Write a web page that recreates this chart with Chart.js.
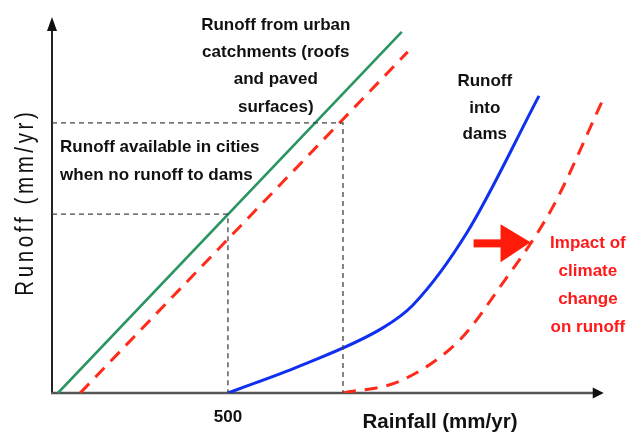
<!DOCTYPE html>
<html>
<head>
<meta charset="utf-8">
<script src="https://cdn.jsdelivr.net/npm/chart.js@4"></script>
<style>
  html, body { margin: 0; padding: 0; background: #fff; }
  #wrap { width: 630px; height: 432px; }
</style>
</head>
<body>
<div id="wrap"><canvas id="runoffChart" width="630" height="432"></canvas></div>
<script>
// ===============================
// DATOS (rainfall / runoff, mm/yr)
// ===============================
const urbanRain = [17, 994];
const urbanRunoff = [0, 1026];

const urbanClimateRain = [80, 1011];
const urbanClimateRunoff = [0, 969];

const damsRain = [500, 705, 940, 1026, 1179, 1384];
const damsRunoff = [0, 77, 185, 250, 455, 844];

const damsClimateRain = [827, 989, 1159, 1273, 1423, 1565];
const damsClimateRunoff = [0, 34, 151, 301, 528, 832];

const guideLowRain = [0, 500, 500];
const guideLowRunoff = [508, 508, 0];
const guideHighRain = [0, 827, 827];
const guideHighRunoff = [767, 767, 0];

const xTickLabels = [500];
const xMax = 1600, yMax = 1068;
const xAxisEnd = 1568;

const FONT = '"Liberation Sans", Arial, sans-serif';

function puntos(xs, ys) {
  return xs.map((x, i) => ({ x: x, y: ys[i] }));
}

// ===============================
// EJES, FLECHAS Y TEXTOS
// ===============================
const dibujoPlugin = {
  id: "dibujo",
  beforeDatasetsDraw(chart) {
    const { ctx, scales: { x, y } } = chart;
    const x0 = x.getPixelForValue(0), y0 = y.getPixelForValue(0);
    const xEnd = x.getPixelForValue(xAxisEnd), yEnd = y.getPixelForValue(yMax);
    ctx.save();
    // eje y
    ctx.strokeStyle = "#222";
    ctx.fillStyle = "#111";
    ctx.lineWidth = 2;
    ctx.beginPath();
    ctx.moveTo(x0, y0 + 1);
    ctx.lineTo(x0, yEnd + 12);
    ctx.stroke();
    ctx.beginPath();
    ctx.moveTo(x0, yEnd);
    ctx.lineTo(x0 - 5, yEnd + 14);
    ctx.lineTo(x0 + 5, yEnd + 14);
    ctx.closePath();
    ctx.fill();
    // eje x
    ctx.strokeStyle = "#555";
    ctx.lineWidth = 2.5;
    ctx.beginPath();
    ctx.moveTo(x0 - 1, y0);
    ctx.lineTo(xEnd - 10, y0);
    ctx.stroke();
    ctx.beginPath();
    ctx.moveTo(xEnd, y0);
    ctx.lineTo(xEnd - 11, y0 - 5.5);
    ctx.lineTo(xEnd - 11, y0 + 5.5);
    ctx.closePath();
    ctx.fill();
    ctx.restore();
  },
  afterDraw(chart) {
    const { ctx, scales: { x, y } } = chart;
    ctx.save();
    ctx.textAlign = "center";
    ctx.textBaseline = "middle";
    ctx.font = "bold 17px " + FONT;

    const bloque = (lineas, rx, ry, paso, align, color) => {
      ctx.fillStyle = color;
      ctx.textAlign = align;
      const px = x.getPixelForValue(rx), py = y.getPixelForValue(ry);
      lineas.forEach((l, i) => ctx.fillText(l, px, py + i * paso));
    };

    bloque(["Runoff from urban", "catchments (roofs", "and paved", "surfaces)"], 636, 1045, 27.3, "center", "#111");
    bloque(["Runoff available in cities", "when no runoff to dams"], 23, 699, 28, "left", "#111");
    bloque(["Runoff", "into", "dams"], 1230, 884, 26.5, "center", "#111");
    bloque(["Impact of", "climate", "change", "on runoff"], 1523, 426, 28, "center", "#ff1a1a");

    // flecha roja
    const ax = x.getPixelForValue(1198), ay = y.getPixelForValue(425);
    ctx.fillStyle = "#ff1a0a";
    ctx.fillRect(ax, ay - 4, 28, 8);
    ctx.beginPath();
    ctx.moveTo(ax + 27, ay - 19);
    ctx.lineTo(ax + 57, ay - 1);
    ctx.lineTo(ax + 27, ay + 19);
    ctx.closePath();
    ctx.fill();

    // etiqueta 500
    ctx.fillStyle = "#111";
    ctx.textAlign = "center";
    xTickLabels.forEach((t) => {
      ctx.fillText(String(t), x.getPixelForValue(t), y.getPixelForValue(0) + 24);
    });

    // titulo eje x
    ctx.font = "bold 20.5px " + FONT;
    ctx.textBaseline = "alphabetic";
    ctx.fillStyle = "#111";
    ctx.fillText("Rainfall (mm/yr)", 440, 428);

    // titulo eje y (espaciado, algo comprimido)
    const titulo = "Runoff (mm/yr)";
    ctx.font = "25px " + FONT;
    const esp = 3.6, comp = 0.82;
    let total = 0;
    for (const c of titulo) total += ctx.measureText(c).width;
    total = total + (esp / comp) * (titulo.length - 1);
    ctx.translate(26, 204);
    ctx.rotate(-Math.PI / 2);
    ctx.scale(comp, 1);
    ctx.textAlign = "left";
    ctx.textBaseline = "middle";
    let pos = -total / 2;
    for (const c of titulo) {
      ctx.fillText(c, pos, 0);
      pos += ctx.measureText(c).width + esp / comp;
    }
    ctx.restore();
  },
};

// ===============================
// GRAFICO
// ===============================
const guia = {
  borderColor: "#444",
  borderWidth: 1.3,
  borderDash: [5, 4],
  pointRadius: 0,
  tension: 0,
  fill: false,
};

new Chart(document.getElementById("runoffChart"), {
  type: "line",
  data: {
    datasets: [
      { label: "guide low", data: puntos(guideLowRain, guideLowRunoff), ...guia },
      { label: "guide high", data: puntos(guideHighRain, guideHighRunoff), ...guia },
      {
        label: "Runoff from urban catchments",
        data: puntos(urbanRain, urbanRunoff),
        borderColor: "#2a9560",
        borderWidth: 2.6,
        pointRadius: 0,
        tension: 0,
      },
      {
        label: "Urban runoff (climate change)",
        data: puntos(urbanClimateRain, urbanClimateRunoff),
        borderColor: "#ff2a1a",
        borderWidth: 3,
        borderDash: [13, 9],
        pointRadius: 0,
        tension: 0,
      },
      {
        label: "Runoff into dams",
        data: puntos(damsRain, damsRunoff),
        borderColor: "#1030f0",
        borderWidth: 3,
        pointRadius: 0,
        cubicInterpolationMode: "monotone",
      },
      {
        label: "Runoff into dams (climate change)",
        data: puntos(damsClimateRain, damsClimateRunoff),
        borderColor: "#ff2a1a",
        borderWidth: 3,
        borderDash: [13, 9],
        pointRadius: 0,
        cubicInterpolationMode: "monotone",
      },
    ],
  },
  options: {
    responsive: false,
    animation: false,
    layout: { padding: { left: 52, right: 15, top: 17, bottom: 39 } },
    plugins: { legend: { display: false }, tooltip: { enabled: false } },
    scales: {
      x: { type: "linear", min: 0, max: xMax, display: false },
      y: { type: "linear", min: 0, max: yMax, display: false },
    },
  },
  plugins: [dibujoPlugin],
});
</script>
</body>
</html>
